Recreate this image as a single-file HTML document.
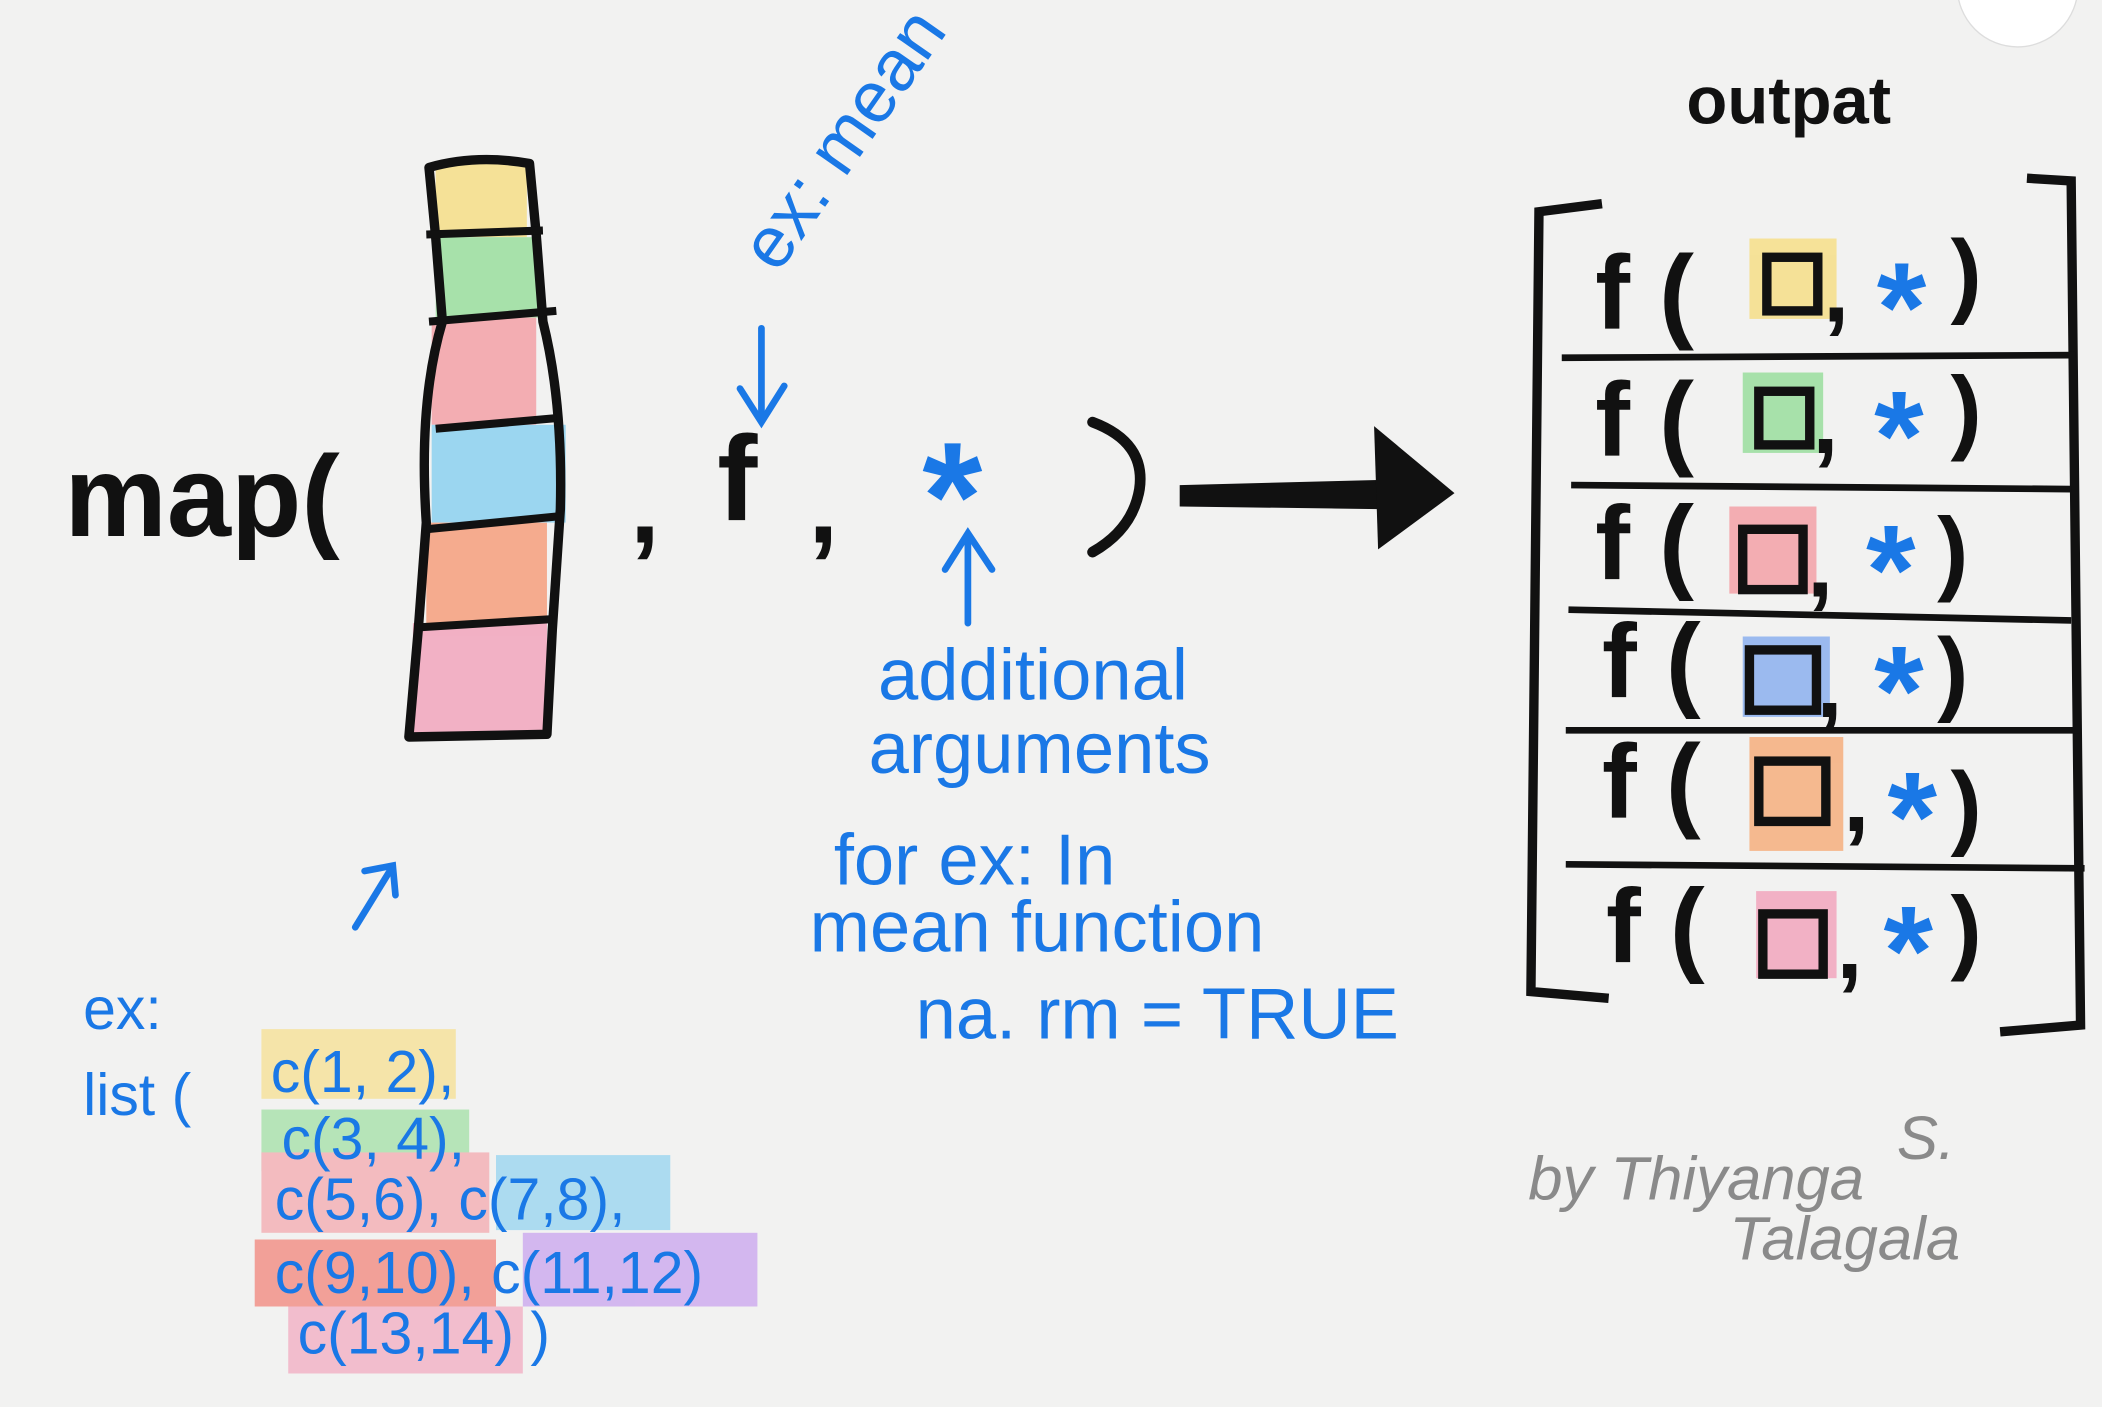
<!DOCTYPE html>
<html><head><meta charset="utf-8"><style>
html,body{margin:0;padding:0;background:#f2f2f1;}
svg{display:block}
text{font-family:"Liberation Sans",sans-serif;}
</style></head><body>
<svg width="2102" height="1407" viewBox="0 0 1568 1050" preserveAspectRatio="none" xmlns="http://www.w3.org/2000/svg">
<rect width="1568" height="1050" fill="#f2f2f1"/>
<circle cx="1505" cy="-10" r="45" fill="#fff" stroke="#ddd"/>
<text x="48" y="400" font-size="86" font-weight="bold" fill="#111">map(</text>
<g opacity="0.75">
<rect x="325" y="122" width="68" height="55" fill="#f7dc7a"/>
<rect x="325" y="177" width="78" height="60" fill="#8fdc93"/>
<rect x="322" y="237" width="78" height="80" fill="#f4979e"/>
<rect x="322" y="317" width="100" height="73" fill="#7fcdf0"/>
<rect x="318" y="390" width="90" height="75" fill="#f6946e"/>
<rect x="308" y="465" width="100" height="82" fill="#f29bb6"/>
</g>
<path d="M320 125 Q355 115 395 122 L400 175 L405 240 Q420 300 418 380 L412 470 L408 548 L305 550 L312 470 L318 390 Q312 300 330 240 L325 177 Z" fill="none" stroke="#111" stroke-width="7" stroke-linejoin="round"/>
<g stroke="#111" stroke-width="6" fill="none">
<line x1="318" y1="175" x2="405" y2="172"/>
<line x1="320" y1="240" x2="415" y2="232"/>
<line x1="325" y1="320" x2="415" y2="312"/>
<line x1="318" y1="395" x2="420" y2="385"/>
<line x1="315" y1="468" x2="412" y2="462"/>
</g>
<text x="470" y="405" font-size="80" font-weight="bold" fill="#111">,</text>
<text x="535" y="388" font-size="90" font-weight="bold" fill="#111">f</text>
<text x="603" y="405" font-size="80" font-weight="bold" fill="#111">,</text>
<text x="688" y="410" font-size="115" font-weight="bold" fill="#1a78e6">*</text>
<path d="M815 315 Q855 330 850 365 Q845 395 815 412" fill="none" stroke="#111" stroke-width="8" stroke-linecap="round"/>
<path d="M880 362 L1035 358 L1035 380 L880 378 Z" fill="#111"/>
<path d="M1025 318 L1085 368 L1028 410 Z" fill="#111"/>
<text x="0" y="0" font-size="54" fill="#1a78e6" transform="translate(580,205) rotate(-55)">ex: mean</text>
<g stroke="#1a78e6" stroke-width="5" fill="none" stroke-linecap="round">
<line x1="568" y1="245" x2="568" y2="312"/><path d="M552 290 L568 315 L585 288"/>
<line x1="722" y1="465" x2="722" y2="400"/><path d="M705 425 L722 398 L740 425"/>
<line x1="265" y1="692" x2="292" y2="648"/><path d="M272 650 L293 646 L295 668"/>
</g>
<g fill="#1a78e6" font-size="54">
<text x="655" y="522">additional</text>
<text x="648" y="577">arguments</text>
<text x="622" y="660">for ex: In</text>
<text x="604" y="710">mean  function</text>
<text x="683" y="775">na. rm = TRUE</text>
</g>
<g opacity="0.6">
<rect x="195" y="768" width="145" height="52" fill="#f7dc7a"/>
<rect x="195" y="828" width="155" height="46" fill="#8fdc93"/>
<rect x="195" y="860" width="170" height="60" fill="#f4979e"/>
<rect x="370" y="862" width="130" height="56" fill="#7fcdf0"/>
<rect x="190" y="925" width="180" height="50" fill="#f26b5e"/>
<rect x="390" y="920" width="175" height="55" fill="#c090ef"/>
<rect x="215" y="975" width="175" height="50" fill="#f29bb6"/>
</g>
<g fill="#1a78e6" font-size="44">
<text x="62" y="768">ex:</text>
<text x="62" y="832">list (</text>
<text x="202" y="815">c(1, 2),</text>
<text x="210" y="865">c(3, 4),</text>
<text x="205" y="910">c(5,6), c(7,8),</text>
<text x="205" y="965">c(9,10), c(11,12)</text>
<text x="222" y="1010">c(13,14) )</text>
</g>
<text x="1258" y="92" font-size="50" font-weight="bold" fill="#111">outpat</text>
<path d="M1195 152 L1148 158 L1142 740 L1200 745" fill="none" stroke="#111" stroke-width="7"/>
<path d="M1512 133 L1545 135 L1552 765 L1492 770" fill="none" stroke="#111" stroke-width="7"/>
<g stroke="#111" stroke-width="5">
<line x1="1165" y1="267" x2="1548" y2="265"/>
<line x1="1172" y1="362" x2="1545" y2="365"/>
<line x1="1170" y1="455" x2="1545" y2="463"/>
<line x1="1168" y1="545" x2="1552" y2="545"/>
<line x1="1168" y1="645" x2="1555" y2="648"/>
</g>
<g font-size="78" font-weight="bold" fill="#111">
<text x="1190" y="245">f (</text>
<text x="1190" y="340">f (</text>
<text x="1190" y="432">f (</text>
<text x="1195" y="520">f (</text>
<text x="1195" y="610">f (</text>
<text x="1198" y="718">f (</text>
</g>
<g opacity="0.75">
<rect x="1305" y="178" width="65" height="60" fill="#f7dc7a"/>
<rect x="1300" y="278" width="60" height="60" fill="#8fdc93"/>
<rect x="1290" y="378" width="65" height="65" fill="#f4979e"/>
<rect x="1300" y="475" width="65" height="60" fill="#7fa8ef"/>
<rect x="1305" y="550" width="70" height="85" fill="#f6a56e"/>
<rect x="1310" y="665" width="60" height="65" fill="#f29bb6"/>
</g>
<g fill="none" stroke="#111" stroke-width="7">
<rect x="1318" y="192" width="38" height="40"/>
<rect x="1312" y="292" width="38" height="40"/>
<rect x="1300" y="395" width="45" height="45"/>
<rect x="1305" y="485" width="50" height="45"/>
<rect x="1312" y="568" width="50" height="45"/>
<rect x="1315" y="682" width="45" height="45"/>
</g>
<g font-size="70" font-weight="bold" fill="#111">
<text x="1360" y="240">,</text><text x="1455" y="228">)</text>
<text x="1352" y="338">,</text><text x="1455" y="330">)</text>
<text x="1348" y="445">,</text><text x="1445" y="435">)</text>
<text x="1355" y="535">,</text><text x="1445" y="525">)</text>
<text x="1375" y="620">,</text><text x="1455" y="625">)</text>
<text x="1370" y="730">,</text><text x="1455" y="718">)</text>
</g>
<g font-size="95" font-weight="bold" fill="#1a78e6">
<text x="1400" y="262">*</text>
<text x="1398" y="358">*</text>
<text x="1392" y="458">*</text>
<text x="1398" y="548">*</text>
<text x="1408" y="642">*</text>
<text x="1405" y="742">*</text>
</g>
<g fill="#8a8a8a" font-size="46" font-style="italic">
<text x="1140" y="895">by Thiyanga</text>
<text x="1415" y="865">S.</text>
<text x="1290" y="940">Talagala</text>
</g>
</svg>
</body></html>
